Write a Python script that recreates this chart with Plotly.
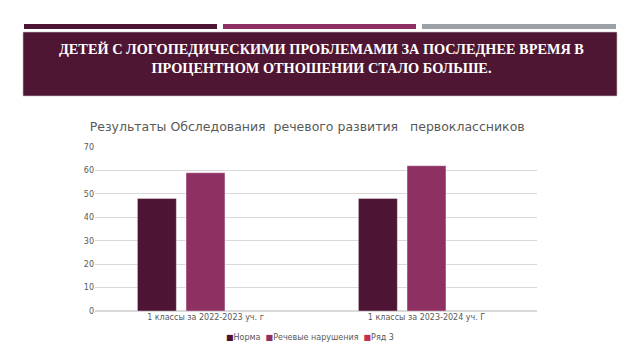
import plotly.graph_objects as go

categories = ["1 классы за 2022-2023 уч. г", "1 классы за 2023-2024 уч. Г"]
series_names = ["Норма", "Речевые нарушения", "Ряд 3"]
norma = [48, 48]
speech = [59, 62]
row3 = [None, None]
colors = ["#4E1434", "#8E3062", "#C4314F"]

header = "ДЕТЕЙ С ЛОГОПЕДИЧЕСКИМИ ПРОБЛЕМАМИ ЗА ПОСЛЕДНЕЕ ВРЕМЯ В<br>ПРОЦЕНТНОМ ОТНОШЕНИИ СТАЛО БОЛЬШЕ."
chart_title = "Результаты Обследования  речевого развития   первоклассников"

fig = go.Figure()
for name, vals, c in zip(series_names, [norma, speech, row3], colors):
    fig.add_trace(go.Bar(x=categories, y=vals, name=name, marker_color=c,
                         marker_line=dict(color="rgba(255,255,255,0.6)", width=0.6)))

W, H = 640, 360
L, R, T, B = 95, 103, 147, 49
PW, PH = W - L - R, H - T - B
def px(x): return (x - L) / PW
def py(y): return (H - B - y) / PH

shapes = [
    dict(type="rect", xref="paper", yref="paper", x0=px(24), x1=px(217), y0=py(29), y1=py(24),
         fillcolor="#4E1434", line_width=0, layer="below"),
    dict(type="rect", xref="paper", yref="paper", x0=px(223), x1=px(416), y0=py(29), y1=py(24),
         fillcolor="#8E3062", line_width=0, layer="below"),
    dict(type="rect", xref="paper", yref="paper", x0=px(422), x1=px(616), y0=py(29), y1=py(24),
         fillcolor="#9AA0A6", line_width=0, layer="below"),
    dict(type="rect", xref="paper", yref="paper", x0=px(23), x1=px(617), y0=py(96), y1=py(32),
         fillcolor="#4F1634", line=dict(color="#C8C0C4", width=0.6), layer="below"),
]

legend_text = "  ".join(
    f"<span style='color:{c}'>■</span>{n}" for n, c in zip(series_names, colors)
)

fig.update_layout(
    width=W, height=H,
    margin=dict(l=L, r=R, t=T, b=B),
    paper_bgcolor="white", plot_bgcolor="white",
    barmode="group", bargap=0.34, bargroupgap=0.2,
    font=dict(family="DejaVu Sans", color="#595959"),
    title=dict(text=chart_title, x=0.48, xanchor="center", y=1 - 127 / H, yanchor="middle",
               font=dict(size=12.5, color="#595959", family="DejaVu Sans")),
    yaxis=dict(range=[0, 70], dtick=10, showgrid=True, gridcolor="#D9D9D9", gridwidth=1,
               zeroline=True, zerolinecolor="#D9D9D9", tickfont=dict(size=8, color="#595959"),
               ticks="", showline=False, fixedrange=True),
    xaxis=dict(tickfont=dict(size=8, color="#595959"), showline=False, ticks="", fixedrange=True),
    showlegend=False,
    shapes=shapes,
    annotations=[
        dict(text="<b>" + header + "</b>", xref="paper", yref="paper", x=px(321), y=py(58),
             xanchor="center", yanchor="middle", showarrow=False,
             font=dict(family="Liberation Serif", size=14.3, color="white"), align="center"),
        dict(text=legend_text, xref="paper", yref="paper", x=px(310), y=py(337),
             xanchor="center", yanchor="middle", showarrow=False,
             font=dict(family="DejaVu Sans", size=8, color="#595959")),
    ],
)

fig.write_html("out.html", config={"displayModeBar": False},
               post_script="document.body.style.margin='0';")
